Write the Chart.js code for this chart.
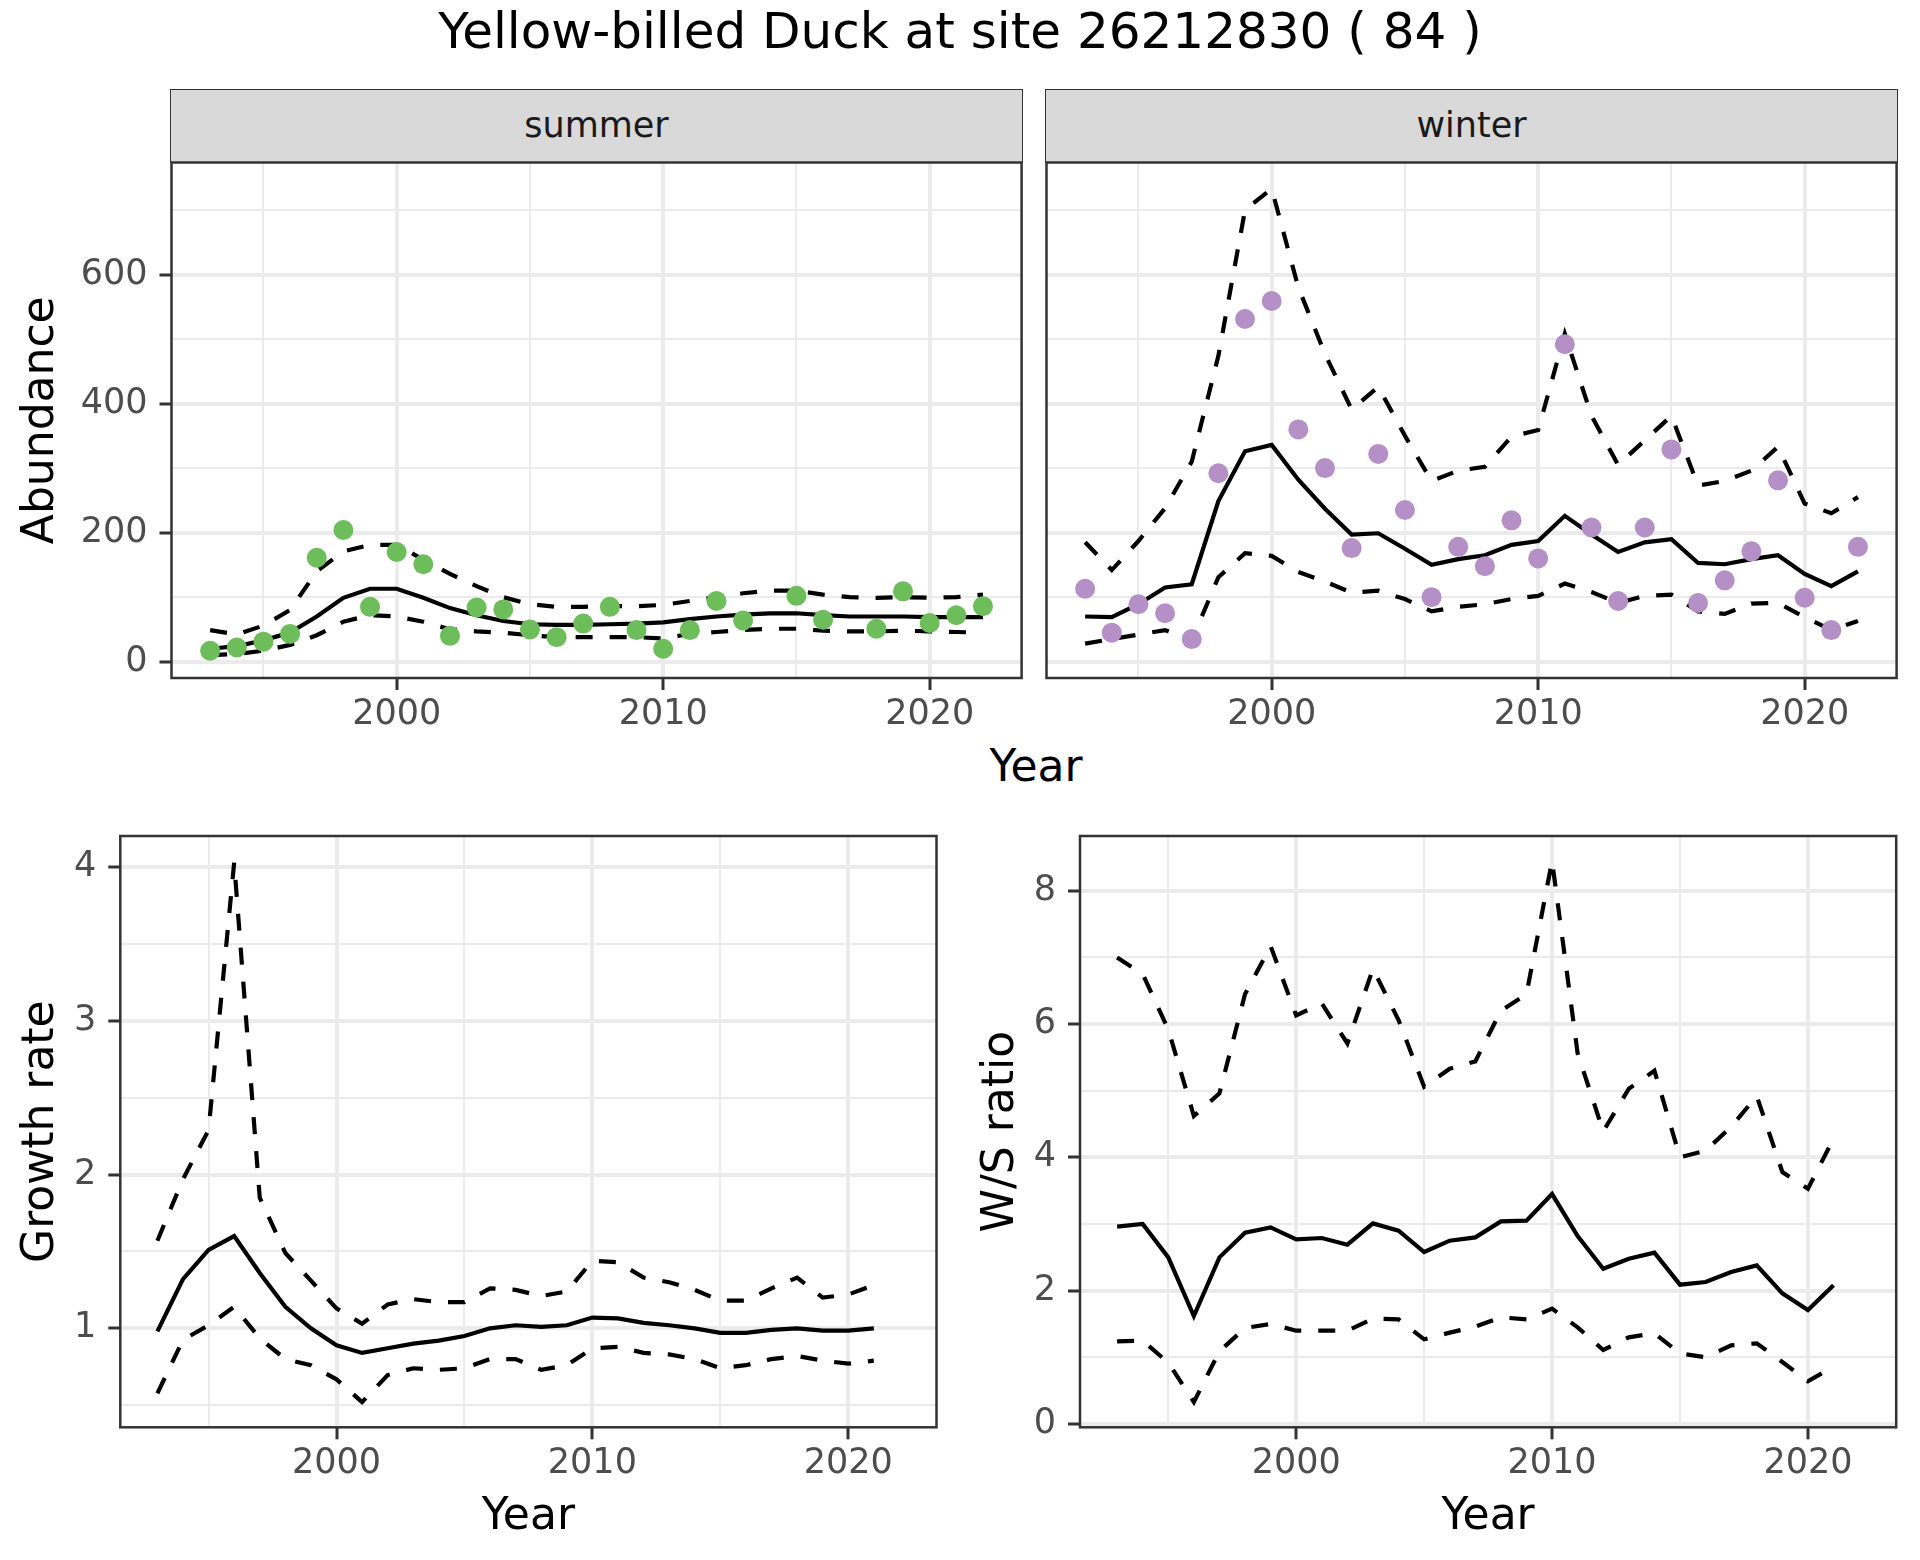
<!DOCTYPE html>
<html>
<head>
<meta charset="utf-8">
<title>Yellow-billed Duck at site 26212830</title>
<style>
  body {
    margin: 0;
    width: 1920px;
    height: 1560px;
    position: relative;
    overflow: hidden;
    background: #ffffff;
    font-family: 'DejaVu Sans', sans-serif;
  }
  canvas { position: absolute; }
  .title {
    position: absolute;
    left: 0;
    width: 1920px;
    top: 4px;
    text-align: center;
    font-size: 50px;
    line-height: 55px;
    color: #000000;
  }
  .strip {
    position: absolute;
    top: 89px;
    height: 74px;
    box-sizing: border-box;
    background: #D9D9D9;
    border: 1.5px solid #333333;
    text-align: center;
    font-size: 35px;
    line-height: 71px;
    color: #1A1A1A;
  }
  .xtitle {
    position: absolute;
    top: 740px;
    left: 736px;
    width: 600px;
    text-align: center;
    font-size: 44px;
    line-height: 52px;
    color: #000000;
  }
</style>
</head>
<body>
<div class="title">Yellow-billed Duck at site 26212830 ( 84 )</div>
<div class="strip" style="left:170px; width:853px;">summer</div>
<div class="strip" style="left:1045px; width:853px;">winter</div>
<div class="xtitle">Year</div>

<canvas id="summer" width="1034" height="670" style="left:0px; top:140px;"></canvas>
<canvas id="winter" width="886" height="670" style="left:1034px; top:140px;"></canvas>
<canvas id="growth" width="960" height="740" style="left:0px; top:820px;"></canvas>
<canvas id="ratio" width="960" height="740" style="left:960px; top:820px;"></canvas>

<script src="https://cdn.jsdelivr.net/npm/chart.js"></script>
<script>
    // counts and model lines, one value per year
    const years = [1993, 1994, 1995, 1996, 1997, 1998, 1999, 2000, 2001, 2002,
                   2003, 2004, 2005, 2006, 2007, 2008, 2009, 2010, 2011, 2012,
                   2013, 2014, 2015, 2016, 2017, 2018, 2019, 2020, 2021, 2022];

    const summerCount = [17, 22, 31, 43, 161, 204, 85, 170, 151, 40,
                         84, 81, 50, 38, 59, 85, 49, 20, 49, 94,
                         64, null, 102, 65, null, 51, 109, 60, 72, 86];
    const summerMean  = [20, 24, 33, 45, 70, 99, 113, 113, 99, 83,
                         72, 63, 58, 57, 57, 58, 59, 61, 66, 70,
                         73, 75, 75, 72, 70, 70, 70, 69, 69, 69];
    const summerUpper = [49, 42, 56, 80, 140, 171, 181, 181, 158, 136,
                         117, 100, 89, 85, 85, 86, 86, 88, 94, 100,
                         106, 110, 110, 104, 100, 99, 100, 99, 100, 104];
    const summerLower = [10, 12, 17, 26, 41, 62, 72, 70, 62, 50,
                         47, 45, 41, 38, 38, 38, 38, 36, 43, 46,
                         49, 51, 51, 48, 47, 47, 48, 47, 46, 45];

    const winterCount = [113, 45, 89, 75, 35, 292, 531, 559, 360, 300,
                         176, 322, 235, 100, 178, 148, 219, 160, 492, 208,
                         94, 208, 329, 91, 126, 171, 281, 99, 49, 178];
    const winterMean  = [70, 69, 89, 115, 120, 249, 326, 336, 282, 237,
                         197, 199, 175, 150, 159, 165, 181, 187, 226, 197,
                         170, 185, 190, 153, 151, 159, 165, 136, 117, 140];
    const winterUpper = [185, 142, 187, 238, 310, 474, 700, 733, 580, 477,
                         391, 426, 350, 280, 296, 302, 349, 359, 508, 381,
                         305, 343, 381, 273, 280, 296, 333, 245, 230, 255];
    const winterLower = [28, 35, 42, 49, 33, 131, 168, 164, 139, 124,
                         107, 110, 97, 78, 85, 89, 97, 102, 121, 108,
                         91, 102, 104, 78, 74, 90, 91, 69, 49, 63];

    const rateYears = [1993, 1994, 1995, 1996, 1997, 1998, 1999, 2000, 2001, 2002,
                       2003, 2004, 2005, 2006, 2007, 2008, 2009, 2010, 2011, 2012,
                       2013, 2014, 2015, 2016, 2017, 2018, 2019, 2020, 2021];

    const growthMean  = [0.98, 1.32, 1.51, 1.60, 1.36, 1.14, 1.00, 0.89, 0.84, 0.87,
                         0.90, 0.92, 0.95, 1.00, 1.02, 1.01, 1.02, 1.07, 1.065, 1.035,
                         1.02, 1.00, 0.97, 0.97, 0.99, 1.00, 0.985, 0.985, 1.00];
    const growthUpper = [1.57, 1.97, 2.29, 4.03, 1.85, 1.49, 1.31, 1.13, 1.03, 1.155,
                         1.19, 1.17, 1.17, 1.26, 1.25, 1.21, 1.24, 1.44, 1.43, 1.33,
                         1.30, 1.25, 1.18, 1.18, 1.26, 1.33, 1.20, 1.22, 1.28];
    const growthLower = [0.577, 0.925, 1.02, 1.14, 0.935, 0.80, 0.76, 0.668, 0.52, 0.696,
                         0.74, 0.73, 0.74, 0.80, 0.80, 0.73, 0.76, 0.87, 0.88, 0.84,
                         0.83, 0.80, 0.74, 0.76, 0.80, 0.82, 0.79, 0.77, 0.79];

    const ratioMean  = [2.96, 3.00, 2.50, 1.62, 2.50, 2.87, 2.95, 2.77, 2.79, 2.69,
                        3.01, 2.90, 2.58, 2.75, 2.80, 3.04, 3.05, 3.45, 2.82, 2.33,
                        2.48, 2.57, 2.09, 2.13, 2.28, 2.38, 1.96, 1.71, 2.08];
    const ratioUpper = [7.00, 6.75, 5.92, 4.62, 4.96, 6.45, 7.17, 6.13, 6.31, 5.71,
                        6.83, 6.06, 5.06, 5.33, 5.44, 6.20, 6.45, 8.45, 5.56, 4.39,
                        5.03, 5.30, 4.00, 4.10, 4.46, 4.92, 3.78, 3.53, 4.28];
    const ratioLower = [1.24, 1.25, 0.92, 0.33, 1.09, 1.44, 1.50, 1.40, 1.40, 1.40,
                        1.58, 1.57, 1.27, 1.37, 1.46, 1.60, 1.57, 1.73, 1.45, 1.11,
                        1.30, 1.36, 1.06, 1.00, 1.18, 1.21, 0.93, 0.64, 0.86];

    // axis ticks: every tick gets a grid line, only the labelled ones get a label and a tick mark
    const yearTicks = [1995, 2000, 2005, 2010, 2015, 2020];
    const yearLabels = [2000, 2010, 2020];
    const abundanceTicks = [0, 100, 200, 300, 400, 500, 600, 700];
    const abundanceLabels = [0, 200, 400, 600];
    const growthTicks = [0.5, 1, 1.5, 2, 2.5, 3, 3.5, 4];
    const growthLabels = [1, 2, 3, 4];
    const ratioTicks = [0, 1, 2, 3, 4, 5, 6, 7, 8];
    const ratioLabels = [0, 2, 4, 6, 8];

    Chart.defaults.font.family = "'DejaVu Sans', sans-serif";
    Chart.defaults.color = '#4D4D4D';

    const panelBorder = {
        id: 'panelBorder',
        afterDatasetsDraw(chart) {
            const a = chart.chartArea;
            const ctx = chart.ctx;
            ctx.save();
            ctx.strokeStyle = '#333333';
            ctx.lineWidth = 2.5;
            ctx.strokeRect(a.left, a.top, a.right - a.left, a.bottom - a.top);
            ctx.restore();
        }
    };

    function points(xs, ys) {
        return xs.map((x, i) => ({x: x, y: ys[i]}));
    }

    function line(xs, ys, dashed) {
        return {
            data: points(xs, ys),
            borderColor: '#000000',
            borderWidth: 4.2,
            borderDash: dashed ? [17, 17] : [],
            pointRadius: 0,
            tension: 0,
            fill: false
        };
    }

    function tickGrid(labels, showTicks) {
        return {
            color: '#EBEBEB',
            lineWidth: c => labels.includes(c.tick.value) ? 4 : 2,
            drawTicks: showTicks,
            tickLength: 12,
            tickWidth: 3,
            tickColor: c => labels.includes(c.tick.value) ? '#333333' : 'rgba(0,0,0,0)'
        };
    }

    // fixed axis size, and no extra room for half labels at the ends
    function fixSize(s, w, h) {
        if (w !== null) s.width = w;
        if (h !== null) s.height = h;
        s.paddingTop = 0;
        s.paddingBottom = 0;
        s.paddingLeft = 0;
        s.paddingRight = 0;
    }

    function create_panel(id, p) {
        const datasets = [];
        if (p.count) {
            datasets.push({
                data: points(p.xs, p.count),
                showLine: false,
                pointRadius: 10,
                pointBorderWidth: 0,
                pointBackgroundColor: p.color,
                borderColor: 'rgba(0,0,0,0)'
            });
        }
        datasets.push(line(p.xs, p.mean, false));
        datasets.push(line(p.xs, p.upper, true));
        datasets.push(line(p.xs, p.lower, true));

        return new Chart(document.getElementById(id), {
            type: 'line',
            data: {datasets: datasets},
            plugins: [panelBorder],
            options: {
                responsive: false,
                animation: false,
                devicePixelRatio: 1,
                events: [],
                layout: {padding: p.padding, autoPadding: false},
                plugins: {legend: {display: false}, tooltip: {enabled: false}},
                scales: {
                    x: {
                        type: 'linear',
                        min: 1991.55,
                        max: 2023.45,
                        afterBuildTicks: s => { s.ticks = yearTicks.map(v => ({value: v})); },
                        afterFit: s => fixSize(s, null, p.xHeight),
                        grid: tickGrid(yearLabels, true),
                        border: {display: false},
                        ticks: {
                            autoSkip: false,
                            maxRotation: 0,
                            padding: 4,
                            font: {size: 35},
                            callback: v => yearLabels.includes(v) ? String(v) : ''
                        },
                        title: p.xTitle ? {
                            display: true,
                            text: p.xTitle,
                            color: '#000000',
                            font: {size: 44},
                            padding: {top: 0, bottom: 16}
                        } : {display: false}
                    },
                    y: {
                        type: 'linear',
                        min: p.yMin,
                        max: p.yMax,
                        afterBuildTicks: s => { s.ticks = p.yTicks.map(v => ({value: v})); },
                        afterFit: s => fixSize(s, p.yWidth, null),
                        grid: tickGrid(p.yLabels, p.yTitle !== null),
                        border: {display: false},
                        ticks: {
                            display: p.yTitle !== null,
                            padding: 12,
                            font: {size: 35},
                            callback: v => p.yLabels.includes(v) ? String(v) : ''
                        },
                        title: p.yTitle ? {
                            display: true,
                            text: p.yTitle,
                            color: '#000000',
                            font: {size: 44},
                            padding: {top: 15, bottom: 0}
                        } : {display: false}
                    }
                }
            }
        });
    }

    create_panel('summer', {
        xs: years, count: summerCount, color: '#6DBD5B',
        mean: summerMean, upper: summerUpper, lower: summerLower,
        yMin: -25.3, yMax: 773.6, yTicks: abundanceTicks, yLabels: abundanceLabels,
        yTitle: 'Abundance', xTitle: null,
        yWidth: 171.5, xHeight: 132,
        padding: {left: 0, top: 22.5, right: 12.4, bottom: 0}
    });

    create_panel('winter', {
        xs: years, count: winterCount, color: '#B590C7',
        mean: winterMean, upper: winterUpper, lower: winterLower,
        yMin: -25.3, yMax: 773.6, yTicks: abundanceTicks, yLabels: abundanceLabels,
        yTitle: null, xTitle: null,
        yWidth: 12.5, xHeight: 132,
        padding: {left: 0, top: 22.5, right: 23.4, bottom: 0}
    });

    create_panel('growth', {
        xs: rateYears, count: null,
        mean: growthMean, upper: growthUpper, lower: growthLower,
        yMin: 0.356, yMax: 4.203, yTicks: growthTicks, yLabels: growthLabels,
        yTitle: 'Growth rate', xTitle: 'Year',
        yWidth: 120.3, xHeight: 132.7,
        padding: {left: 0, top: 16, right: 23.5, bottom: 0}
    });

    create_panel('ratio', {
        xs: rateYears, count: null,
        mean: ratioMean, upper: ratioUpper, lower: ratioLower,
        yMin: -0.05, yMax: 8.822, yTicks: ratioTicks, yLabels: ratioLabels,
        yTitle: 'W/S ratio', xTitle: 'Year',
        yWidth: 120, xHeight: 132.7,
        padding: {left: 0, top: 16, right: 23.8, bottom: 0}
    });
</script>
</body>
</html>
